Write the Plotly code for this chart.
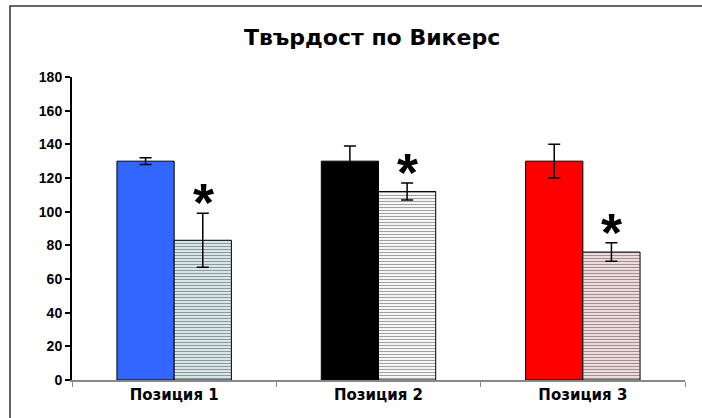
import plotly.graph_objects as go

# Vickers hardness per position: solid = reference, hatched = treated
categories = ["Позиция 1", "Позиция 2", "Позиция 3"]
ref_values = [130, 130, 130]
ref_errors = [2, 9, 10]
treated_values = [83, 112, 76]
treated_errors = [16, 5, 5.5]

solid_colors = ["#3366ff", "#000000", "#ff0000"]
hatch_fg = ["#7d9fae", "#8a8a8a", "#c48a94"]
hatch_bg = ["#dcedf1", "#ffffff", "#f6e2e5"]

err_style = dict(type="data", visible=True, color="#000000", thickness=1.5, width=6)
FONT = "Arial, Liberation Sans"
WIDE = "DejaVu Sans, Arial"

fig = go.Figure()
fig.add_trace(go.Bar(
    x=categories, y=ref_values,
    error_y=dict(array=ref_errors, **err_style),
    marker=dict(color=solid_colors, line=dict(color="#000000", width=1)),
    showlegend=False,
))
fig.add_trace(go.Bar(
    x=categories, y=treated_values,
    error_y=dict(array=treated_errors, **err_style),
    marker=dict(
        color=hatch_bg,
        line=dict(color="#000000", width=1),
        pattern=dict(shape="-", fgcolor=hatch_fg, bgcolor=hatch_bg,
                     size=3, solidity=0.4, fillmode="overlay"),
    ),
    showlegend=False,
))

# significance markers above treated bars
for cat, v, e in zip(categories, treated_values, treated_errors):
    fig.add_annotation(
        x=cat, y=v + e, xref="x", yref="y",
        text="<b>*</b>", showarrow=False,
        xshift=29, yshift=11, yanchor="middle",
        font=dict(family=FONT, size=54, color="#000000"),
    )

# outer chart frame (left and top edges; the rest runs off the page)
fx0 = (10 - 72) / 613
fx1 = (800 - 72) / 613
fy_top = 1 + (77 - 6) / 303
fy_bot = -(500 - 380) / 303
fig.add_shape(type="path", xref="paper", yref="paper",
              path=f"M {fx0},{fy_bot} L {fx0},{fy_top} L {fx1},{fy_top}",
              line=dict(color="#333333", width=1.5), layer="below")

fig.update_layout(
    width=702, height=418,
    margin=dict(l=72, r=17, t=77, b=38),
    paper_bgcolor="#ffffff", plot_bgcolor="#ffffff",
    barmode="group", bargap=0.44, bargroupgap=0,
    title=dict(text="<b>Твърдост по Викерс</b>", x=0.53, xanchor="center",
               y=1 - 37 / 418, yanchor="middle",
               font=dict(family=WIDE, size=22, color="#000000")),
    font=dict(family=FONT, color="#000000"),
)
fig.update_yaxes(
    range=[0, 180], dtick=20, showgrid=False, zeroline=False,
    showline=True, linecolor="#000000", linewidth=2,
    ticks="outside", ticklen=5, tickwidth=1.5, tickcolor="#000000",
    tickfont=dict(family=FONT, size=14, color="#000000"),
    tickprefix="<b>", ticksuffix="</b>",
)
fig.update_xaxes(
    showgrid=False, showline=True, linecolor="#888888", linewidth=1.5,
    ticks="outside", tickson="boundaries", ticklen=5, tickcolor="#888888",
    tickfont=dict(family=WIDE, size=15, color="#000000"),
    tickprefix="<b>", ticksuffix="</b>",
)

fig.write_html("out.html")
